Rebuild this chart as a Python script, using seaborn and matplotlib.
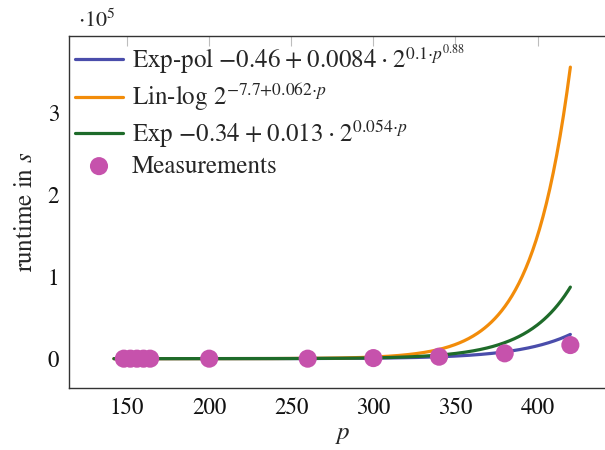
import numpy as np
import pandas as pd
import matplotlib
matplotlib.use("Agg")
import matplotlib.pyplot as plt
import seaborn as sns

# Measured runtimes (seconds) against problem size p
meas_p = [148, 152, 156, 160, 164, 200, 260, 300, 340, 380, 420]
meas_runtime = [0, 0, 0, 0, 0, 0, 0, 700, 2400, 6500, 16600]

# Fitted model coefficients
exppol_coef = [-0.46, 0.0084, 0.1069, 0.88]   # a + b * 2^(c * p^d)
linlog_coef = [-7.7, 0.06224]                  # 2^(a + b * p)
exp_coef = [-0.34, 0.013, 0.054]               # a + b * 2^(c * p)

p_range = [142, 420]

colors = {
    "exppol": "#4a4dab",
    "linlog": "#f28c0a",
    "exp": "#1e6b2a",
    "meas": "#c652ac",
}

sns.set_theme(style="white")
plt.rcParams["font.family"] = ["STIXGeneral", "DejaVu Serif"]
plt.rcParams["mathtext.fontset"] = "stix"

p = np.linspace(p_range[0], p_range[1], 400)
a, b, c, d = exppol_coef
y_exppol = a + b * 2.0 ** (c * p ** d)
la, lb = linlog_coef
y_linlog = 2.0 ** (la + lb * p)
ea, eb, ec = exp_coef
y_exp = ea + eb * 2.0 ** (ec * p)

# binary operators: spaced on the main line, tight inside exponents
SP = r"\;"
lab_exppol = (r"Exp-pol ${-}%.2f%s{+}%s%.4f%s{\cdot}%s2^{%.1f{\cdot}p^{%.2f}}$"
              % (-a, SP, SP, b, SP, SP, c, d))
lab_linlog = r"Lin-log $2^{{-}%.1f{+}%.3f{\cdot}p}$" % (-la, lb)
lab_exp = (r"Exp ${-}%.2f%s{+}%s%.3f%s{\cdot}%s2^{%.3f{\cdot}p}$"
           % (-ea, SP, SP, eb, SP, SP, ec))

curves = pd.concat([
    pd.DataFrame({"p": p, "runtime": y_exppol / 1e5, "model": lab_exppol}),
    pd.DataFrame({"p": p, "runtime": y_linlog / 1e5, "model": lab_linlog}),
    pd.DataFrame({"p": p, "runtime": y_exp / 1e5, "model": lab_exp}),
])
meas = pd.DataFrame({"p": meas_p, "runtime": np.array(meas_runtime) / 1e5})

fig = plt.figure(figsize=(6.05, 4.5), dpi=100)
ax = fig.add_axes([69 / 605, 1 - 388 / 450, (616 - 69) / 605, (388 - 36) / 450])

sns.lineplot(data=curves, x="p", y="runtime", hue="model", ax=ax,
             palette=[colors["exppol"], colors["linlog"], colors["exp"]],
             linewidth=2.3, sort=False, estimator=None)
sns.scatterplot(data=meas, x="p", y="runtime", ax=ax, color=colors["meas"],
                s=170, edgecolor="none", label="Measurements", zorder=5)

ax.set_xlim(114.6, 447.8)
ax.set_ylim(-0.358, 3.938)
ax.set_xticks([150, 200, 250, 300, 350, 400])
ax.set_yticks([0, 1, 2, 3])
ax.tick_params(direction="in", length=7, width=0.8, color="#bdbdbd",
               top=True, right=True, labelsize=16.5, pad=7,
               labelcolor="#111111")
for s in ax.spines.values():
    s.set_color("#333333")
    s.set_linewidth(1.0)

ax.set_xlabel("$p$", fontsize=18, labelpad=2)
ax.set_ylabel("runtime in $s$", fontsize=18, labelpad=7)
ax.text(0.016, 1.012, r"$\cdot 10^{5}$", transform=ax.transAxes,
        fontsize=16, ha="left", va="bottom")

handles, labels = ax.get_legend_handles_labels()
ax.legend(handles, labels, loc="upper left", frameon=False, fontsize=18,
          handlelength=1.9, handletextpad=0.35, labelspacing=0.2,
          borderaxespad=0.0, borderpad=0.25, bbox_to_anchor=(0.0, 1.0))

fig.savefig("out.png", dpi=100)
